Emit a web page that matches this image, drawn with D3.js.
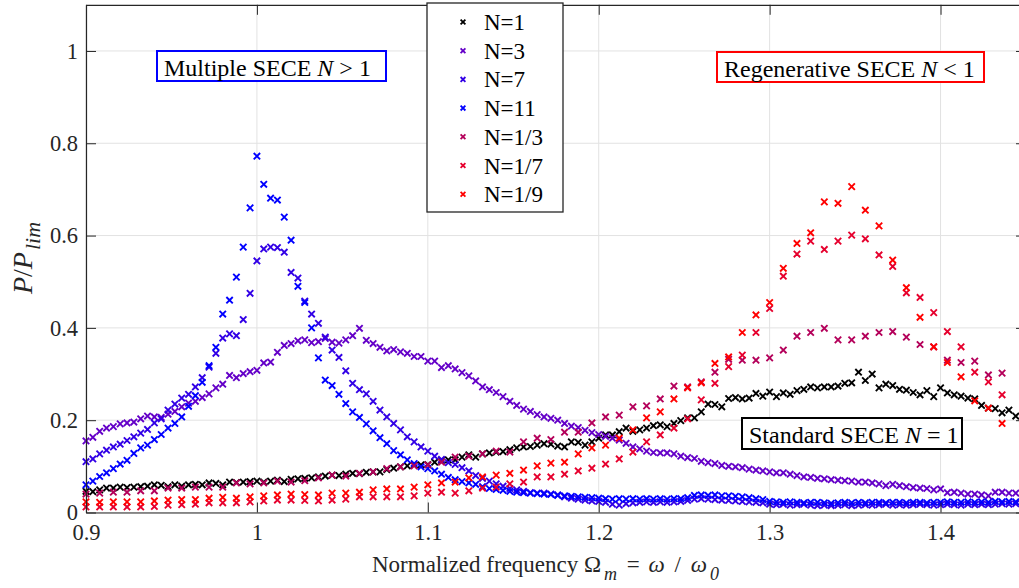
<!DOCTYPE html>
<html><head><meta charset="utf-8">
<script src="https://cdn.jsdelivr.net/npm/d3@7"></script>
<style>
body{margin:0;background:#fff;}
svg{display:block;}
</style>
</head><body>
<svg id="c" width="1019" height="588"></svg>
<script>
// ---------- data ----------
const seriesNames  = ["N=1","N=3","N=7","N=11","N=1/3","N=1/7","N=1/9"];
const seriesColors = ["#000000","#6400c8","#3200e6","#0000ff","#b4005a","#e6002d","#ff0000"];
const xTicks = [0.9,1,1.1,1.2,1.3,1.4];
const yTicks = [0,0.2,0.4,0.6,0.8,1];
// frequency sweeps (normalized), fine sweep for N>=1, coarse sweep for N<1
const fineStart = 0.9, fineStep = 0.004, fineCount = 138;
const coarseStart = 0.9, coarseStep = 0.008, coarseCount = 68;

const yN1 = [0.046,0.045,0.049,0.053,0.053,0.055,0.054,0.055,0.056,0.057,
0.060,0.059,0.056,0.060,0.057,0.060,0.061,0.060,0.064,0.063,
0.060,0.066,0.065,0.066,0.067,0.068,0.066,0.068,0.070,0.067,
0.072,0.073,0.074,0.075,0.077,0.079,0.081,0.080,0.083,0.085,
0.084,0.087,0.088,0.088,0.093,0.096,0.099,0.101,0.103,0.103,
0.104,0.109,0.113,0.114,0.114,0.120,0.125,0.120,0.127,0.129,
0.131,0.132,0.136,0.140,0.142,0.143,0.146,0.149,0.148,0.144,
0.142,0.153,0.152,0.146,0.153,0.161,0.168,0.168,0.175,0.183,
0.176,0.179,0.183,0.188,0.190,0.186,0.193,0.199,0.205,0.205,
0.218,0.235,0.234,0.229,0.247,0.249,0.246,0.248,0.258,0.252,
0.261,0.251,0.259,0.256,0.264,0.267,0.272,0.270,0.272,0.272,
0.274,0.280,0.281,0.304,0.286,0.300,0.270,0.278,0.275,0.267,
0.265,0.260,0.255,0.264,0.251,0.270,0.259,0.255,0.252,0.248,
0.246,0.232,0.226,0.225,0.216,0.222,0.209,0.205];

const yN3 = [0.155,0.163,0.176,0.183,0.186,0.192,0.194,0.196,0.203,0.209,
0.207,0.206,0.213,0.219,0.229,0.237,0.241,0.249,0.257,0.270,
0.278,0.297,0.292,0.301,0.305,0.308,0.324,0.326,0.347,0.362,
0.366,0.372,0.374,0.368,0.370,0.377,0.369,0.367,0.374,0.383,
0.399,0.373,0.366,0.358,0.350,0.353,0.348,0.345,0.338,0.338,
0.328,0.328,0.314,0.318,0.311,0.303,0.296,0.285,0.272,0.266,
0.260,0.251,0.241,0.232,0.224,0.219,0.212,0.207,0.204,0.200,
0.193,0.187,0.184,0.178,0.173,0.169,0.165,0.161,0.157,0.150,
0.142,0.138,0.133,0.130,0.129,0.129,0.127,0.122,0.119,0.117,
0.111,0.108,0.106,0.102,0.100,0.099,0.097,0.094,0.092,0.090,
0.088,0.086,0.086,0.083,0.080,0.077,0.076,0.074,0.073,0.071,
0.070,0.069,0.068,0.066,0.066,0.064,0.062,0.058,0.061,0.058,
0.056,0.054,0.053,0.052,0.049,0.051,0.043,0.044,0.042,0.040,
0.040,0.038,0.036,0.044,0.044,0.042,0.042,0.041];

const yN7 = [0.110,0.116,0.127,0.135,0.142,0.148,0.156,0.164,0.172,0.180,
0.194,0.203,0.222,0.235,0.248,0.256,0.272,0.292,0.315,0.345,
0.378,0.387,0.383,0.418,0.475,0.545,0.571,0.575,0.574,0.564,
0.520,0.508,0.458,0.430,0.410,0.380,0.352,0.336,0.307,0.280,
0.266,0.257,0.241,0.222,0.207,0.193,0.179,0.164,0.153,0.142,
0.133,0.122,0.115,0.108,0.104,0.097,0.090,0.080,0.074,0.068,
0.062,0.057,0.052,0.049,0.046,0.043,0.042,0.042,0.040,0.038,
0.034,0.031,0.029,0.027,0.025,0.024,0.022,0.018,0.016,0.019,
0.021,0.022,0.023,0.022,0.023,0.022,0.023,0.024,0.026,0.029,
0.030,0.029,0.028,0.027,0.026,0.025,0.024,0.023,0.022,0.021,
0.018,0.017,0.018,0.016,0.017,0.018,0.016,0.015,0.016,0.015,
0.016,0.017,0.015,0.016,0.017,0.016,0.017,0.018,0.016,0.017,
0.016,0.017,0.018,0.017,0.016,0.017,0.018,0.017,0.016,0.018,
0.017,0.018,0.017,0.018,0.019,0.018,0.019,0.018];

const yN11 = [0.060,0.068,0.078,0.086,0.095,0.105,0.113,0.128,0.140,0.146,
0.158,0.169,0.183,0.193,0.207,0.230,0.253,0.282,0.318,0.358,
0.430,0.460,0.510,0.575,0.660,0.772,0.711,0.681,0.677,0.640,
0.590,0.490,0.455,0.400,0.335,0.287,0.275,0.256,0.236,0.218,
0.206,0.192,0.177,0.162,0.149,0.134,0.125,0.114,0.106,0.099,
0.095,0.090,0.083,0.076,0.071,0.067,0.064,0.061,0.056,0.052,
0.050,0.048,0.046,0.044,0.043,0.042,0.041,0.040,0.039,0.037,
0.036,0.035,0.034,0.033,0.032,0.031,0.030,0.029,0.030,0.029,
0.030,0.029,0.030,0.029,0.030,0.029,0.030,0.030,0.032,0.037,
0.038,0.037,0.038,0.036,0.036,0.035,0.034,0.032,0.030,0.028,
0.024,0.023,0.022,0.023,0.022,0.021,0.022,0.022,0.021,0.020,
0.021,0.022,0.021,0.022,0.021,0.022,0.022,0.021,0.022,0.022,
0.021,0.022,0.022,0.021,0.022,0.022,0.023,0.022,0.022,0.023,
0.022,0.023,0.022,0.024,0.023,0.024,0.023,0.024];

const yN1_3 = [0.040,0.042,0.044,0.044,0.047,0.047,0.053,0.053,0.055,0.055,
0.055,0.064,0.062,0.064,0.068,0.066,0.069,0.075,0.081,0.079,
0.085,0.088,0.095,0.099,0.101,0.103,0.109,0.120,0.122,0.127,
0.133,0.131,0.153,0.161,0.158,0.174,0.174,0.194,0.207,0.211,
0.229,0.231,0.246,0.274,0.272,0.283,0.304,0.332,0.330,0.330,
0.335,0.352,0.382,0.390,0.399,0.374,0.374,0.382,0.390,0.392,
0.380,0.364,0.359,0.330,0.325,0.328,0.298,0.302];

const yN1_7 = [0.012,0.012,0.012,0.012,0.012,0.013,0.016,0.017,0.018,0.021,
0.021,0.021,0.023,0.025,0.027,0.027,0.026,0.025,0.027,0.029,
0.034,0.034,0.034,0.034,0.036,0.042,0.044,0.042,0.047,0.053,
0.055,0.062,0.066,0.077,0.077,0.083,0.090,0.096,0.105,0.116,
0.131,0.153,0.168,0.183,0.203,0.244,0.280,0.316,0.341,0.390,
0.442,0.512,0.560,0.588,0.570,0.588,0.601,0.593,0.558,0.533,
0.476,0.466,0.433,0.392,0.359,0.304,0.283,0.255];

const yN1_9 = [0.023,0.022,0.023,0.023,0.023,0.025,0.027,0.028,0.028,0.031,
0.033,0.031,0.034,0.036,0.038,0.040,0.039,0.038,0.042,0.042,
0.044,0.049,0.051,0.051,0.055,0.060,0.064,0.066,0.075,0.077,
0.081,0.085,0.092,0.101,0.107,0.109,0.127,0.140,0.146,0.161,
0.179,0.205,0.218,0.246,0.270,0.281,0.323,0.337,0.390,0.428,
0.455,0.529,0.583,0.606,0.673,0.670,0.706,0.655,0.621,0.547,
0.487,0.423,0.359,0.325,0.294,0.242,0.226,0.193];

// ---------- build ----------
const fineFreq = d3.range(fineCount).map(i => +(fineStart + i*fineStep).toFixed(4));
const coarseFreq = d3.range(coarseCount).map(i => +(coarseStart + i*coarseStep).toFixed(4));
const seriesY = [yN1, yN3, yN7, yN11, yN1_3, yN1_7, yN1_9];
const seriesX = [fineFreq, fineFreq, fineFreq, fineFreq, coarseFreq, coarseFreq, coarseFreq];

const svg = d3.select("#c");
const axisColor = "#262626";
const FONT = "'Liberation Serif'";

const x = d3.scaleLinear().domain([0.9, 1.45]).range([86, 1026]);
const y = d3.scaleLinear().domain([0, 1.1]).range([512.5, 4.8]);

svg.append("rect").attr("width",1019).attr("height",588).attr("fill","#fff");

// grid
const grid = svg.append("g").attr("stroke","#e2e2e2").attr("stroke-width",1);
grid.selectAll(".gx").data(xTicks).join("line")
  .attr("x1",d=>x(d)).attr("x2",d=>x(d)).attr("y1",y(0)).attr("y2",y(1.1));
grid.selectAll(".gy").data(yTicks).join("line")
  .attr("x1",x(0.9)).attr("x2",x(1.45)).attr("y1",d=>y(d)).attr("y2",d=>y(d));

// markers
const markerPath = a => `M${-a},${-a}L${a},${a}M${-a},${a}L${a},${-a}`;
const plot = svg.append("g");
seriesY.forEach((ys, s) => {
  const pts = ys.map((v,i) => [seriesX[s][i], v]);
  plot.append("g").selectAll("path").data(pts).join("path")
    .attr("transform", d => `translate(${x(d[0])},${y(d[1])})`)
    .attr("d", markerPath(3.2))
    .attr("fill","none")
    .attr("stroke", seriesColors[s])
    .attr("stroke-width", 1.9);
});

// axes
function styleAxis(g){
  g.selectAll("path.domain").attr("stroke",axisColor).attr("stroke-width",1.2);
  g.selectAll(".tick line").attr("stroke",axisColor).attr("stroke-width",1);
  g.selectAll("text").attr("fill",axisColor).style("font-family",FONT).style("font-size","22.5px");
}
const fmt = d3.format("~g");
svg.append("g").attr("transform",`translate(0,${y(0)})`)
  .call(d3.axisBottom(x).tickValues(xTicks).tickFormat(fmt).tickSizeInner(-10).tickSizeOuter(0).tickPadding(12))
  .call(styleAxis);
svg.append("g").attr("transform",`translate(0,${y(1.1)})`)
  .call(d3.axisTop(x).tickValues(xTicks).tickFormat("").tickSizeInner(-10).tickSizeOuter(0))
  .call(styleAxis);
svg.append("g").attr("transform",`translate(${x(0.9)},0)`)
  .call(d3.axisLeft(y).tickValues(yTicks).tickFormat(fmt).tickSizeInner(-10).tickSizeOuter(0).tickPadding(8))
  .call(styleAxis);
svg.append("g").attr("transform",`translate(${x(1.45)},0)`)
  .call(d3.axisRight(y).tickValues(yTicks).tickFormat("").tickSizeInner(-10).tickSizeOuter(0))
  .call(styleAxis);

function txt(sel){ return sel.style("font-family",FONT); }

// axis titles
const xl = txt(svg.append("text")).attr("x",372).attr("y",572).attr("text-anchor","start")
  .style("font-size","23px").attr("fill",axisColor);
xl.append("tspan").text("Normalized frequency Ω");
xl.append("tspan").attr("font-style","italic").style("font-size","18px").attr("dy",8).attr("dx",3).text("m");
xl.append("tspan").attr("dy",-8).attr("dx",4).text(" = ");
xl.append("tspan").attr("font-style","italic").attr("dx",3).text("ω");
xl.append("tspan").attr("dx",4).text(" / ");
xl.append("tspan").attr("font-style","italic").attr("dx",4).text("ω");
xl.append("tspan").attr("font-style","italic").style("font-size","18px").attr("dy",8).attr("dx",3).text("0");

const yl = txt(svg.append("text")).attr("transform","translate(32,258) rotate(-90)").attr("text-anchor","middle")
  .style("font-size","28px").attr("fill",axisColor);
yl.append("tspan").attr("font-style","italic").text("P");
yl.append("tspan").text("/");
yl.append("tspan").attr("font-style","italic").text("P");
yl.append("tspan").attr("font-style","italic").style("font-size","22px").attr("dy",8).attr("dx",2).text("lim");

// annotation boxes
function note(bx, by, bw, bh, color, parts, tx, ty){
  svg.append("rect").attr("x",bx).attr("y",by).attr("width",bw).attr("height",bh)
    .attr("fill","#fff").attr("stroke",color).attr("stroke-width",2);
  const t = txt(svg.append("text")).attr("x",tx).attr("y",ty).style("font-size","24px").attr("fill","#000");
  parts.forEach(p => t.append("tspan").attr("font-style", p[1] ? "italic" : "normal").text(p[0]));
}
note(157, 51, 229, 30, "#0000ff", [["Multiple SECE ",0],["N",1],[" > 1",0]], 164, 76);
note(717, 52, 267, 30, "#ff0000", [["Regenerative SECE ",0],["N",1],[" < 1",0]], 724, 77);
note(742, 418, 220, 31, "#000000", [["Standard SECE ",0],["N",1],[" = 1",0]], 749, 443);

// legend
const lg = svg.append("g");
lg.append("rect").attr("x",427).attr("y",3).attr("width",136).attr("height",209)
  .attr("fill","#fff").attr("stroke",axisColor).attr("stroke-width",1.3);
seriesNames.forEach((nm, i) => {
  const cy = 22 + i*28.7;
  lg.append("path").attr("transform",`translate(463,${cy})`).attr("d",markerPath(2.4))
    .attr("fill","none").attr("stroke",seriesColors[i]).attr("stroke-width",1.8);
  txt(lg.append("text")).attr("x",484).attr("y",cy).attr("dy","0.35em").style("font-size","23px")
    .attr("fill","#000").text(nm);
});
</script>
</body></html>
